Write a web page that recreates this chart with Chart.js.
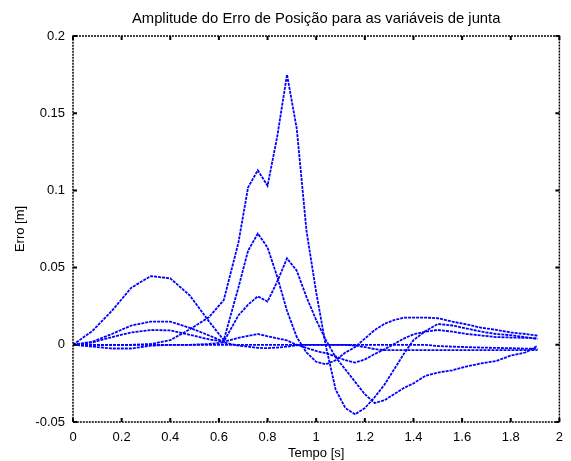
<!DOCTYPE html>
<html>
<head>
<meta charset="utf-8">
<script src="https://cdn.jsdelivr.net/npm/chart.js@4/dist/chart.umd.min.js"></script>
<style>
  html, body { margin: 0; padding: 0; background: #fff; }
  #wrap { width: 571px; height: 461px; }
</style>
</head>
<body>
<div id="wrap"><canvas id="chart" width="571" height="461"></canvas></div>
<script>
// ─── Data ────────────────────────────────────────────────────────────────────
const tempo = [0, 0.08, 0.16, 0.24, 0.32, 0.40, 0.48, 0.56, 0.62, 0.68, 0.72, 0.76,
  0.80, 0.84, 0.88, 0.92, 0.96, 1.00, 1.04, 1.08, 1.12, 1.16, 1.20, 1.24, 1.28,
  1.32, 1.36, 1.40, 1.45, 1.50, 1.56, 1.62, 1.68, 1.74, 1.80, 1.86, 1.91];

const erroJ1 = [0, 0, 0, 0, 0.0005, 0.003, 0.010, 0.018, 0.029, 0.066, 0.102, 0.113,
  0.103, 0.135, 0.175, 0.140, 0.074, 0.034, -0.001, -0.029, -0.041, -0.045, -0.041, -0.034, -0.026,
  -0.016, -0.006, 0.003, 0.009, 0.0135, 0.0125, 0.0105, 0.0085, 0.007, 0.0062, 0.005, 0.0037];

const erroJ2 = [0, 0.009, 0.022, 0.037, 0.0445, 0.043, 0.032, 0.015, 0.003, 0.037, 0.061, 0.072,
  0.063, 0.044, 0.022, 0.005, -0.005, -0.011, -0.0126, -0.010, -0.005, -0.0015, 0.004, 0.0095, 0.0135,
  0.016, 0.0176, 0.0176, 0.0176, 0.0172, 0.015, 0.0132, 0.011, 0.0097, 0.008, 0.007, 0.0059];

const erroJ3 = [0, 0.002, 0.007, 0.0125, 0.015, 0.015, 0.011, 0.006, 0.002, 0.019, 0.026, 0.0314,
  0.028, 0.041, 0.056, 0.048, 0.031, 0.016, 0.003, -0.008, -0.016, -0.024, -0.032, -0.0377, -0.036,
  -0.032, -0.028, -0.025, -0.020, -0.018, -0.0165, -0.014, -0.012, -0.0105, -0.007, -0.005, -0.0007];

const erroJ4 = [0, 0.0015, 0.005, 0.008, 0.0096, 0.0093, 0.0065, 0.0035, 0.002, 0.0045, 0.0058, 0.007,
  0.0055, 0.0042, 0.0028, 0.0, -0.002, -0.004, -0.0055, -0.0075, -0.010, -0.0115, -0.0095, -0.006, -0.003,
  0.0005, 0.004, 0.0068, 0.0085, 0.0096, 0.0085, 0.007, 0.006, 0.005, 0.0047, 0.0045, 0.0043];

const erroJ5 = [0, 0, 0, 0, 0, 0, 0, 0, 0, 0, 0, 0,
  0, 0, 0, 0, 0, 0, 0, 0, 0, 0, 0, 0, 0,
  0, 0, 0, 0, -0.0008, -0.0012, -0.0015, -0.0018, -0.002, -0.0022, -0.0025, -0.0026];

const erroJ6 = [0, -0.0012, -0.0024, -0.0024, -0.0006, 0, 0, 0.0005, 0.0015, -0.0005, -0.0012, -0.002,
  -0.0022, -0.0018, -0.0012, -0.0003, 0, 0, 0, 0, 0, -0.0005, -0.0015, -0.0028, -0.0035,
  -0.0035, -0.0035, -0.0035, -0.0035, -0.0035, -0.0035, -0.0035, -0.0035, -0.0035, -0.0035, -0.0035, -0.0035];

const xTickLabels = ['0', '0.2', '0.4', '0.6', '0.8', '1', '1.2', '1.4', '1.6', '1.8', '2'];
const yTickLabels = ['-0.05', '0', '0.05', '0.1', '0.15', '0.2'];

// ─── Style ────────────────────────────────────────────────────────────────────
const FAMILY = '"Liberation Sans", Arial, sans-serif';
const FONT = { family: FAMILY, size: 13 };
const LINE_BLUE = '#0000ff';

const series = [erroJ1, erroJ2, erroJ3, erroJ4, erroJ5, erroJ6];
const datasets = series.map((vals, i) => ({
  label: 'q' + (i + 1),
  data: vals.map((v, k) => ({ x: tempo[k], y: v })),
  borderColor: LINE_BLUE,
  backgroundColor: LINE_BLUE,
  borderWidth: 1.8,
  borderDash: [3, 1],
  pointRadius: 0,
  tension: 0,
  fill: false,
}));

// box + inward ticks, MATLAB style
const boxPlugin = {
  id: 'box',
  afterDatasetsDraw(chart) {
    const { ctx, chartArea: a, scales: { x, y } } = chart;
    ctx.save();
    ctx.strokeStyle = '#000';
    ctx.lineWidth = 1.5;
    ctx.setLineDash([2, 1]);
    ctx.strokeRect(a.left, a.top, a.right - a.left, a.bottom - a.top);
    ctx.setLineDash([]);
    ctx.lineWidth = 2;
    const len = 4;
    x.ticks.forEach(t => {
      const px = x.getPixelForValue(t.value);
      ctx.beginPath();
      ctx.moveTo(px, a.bottom); ctx.lineTo(px, a.bottom - len);
      ctx.moveTo(px, a.top);    ctx.lineTo(px, a.top + len);
      ctx.stroke();
    });
    y.ticks.forEach(t => {
      const py = y.getPixelForValue(t.value);
      ctx.beginPath();
      ctx.moveTo(a.left, py);  ctx.lineTo(a.left + len, py);
      ctx.moveTo(a.right, py); ctx.lineTo(a.right - len, py);
      ctx.stroke();
    });
    ctx.restore();
  },
};

new Chart(document.getElementById('chart').getContext('2d'), {
  type: 'line',
  data: { datasets },
  options: {
    responsive: false,
    animation: false,
    layout: { padding: { left: 0, right: 8, top: 0, bottom: 0 } },
    plugins: {
      legend: { display: false },
      tooltip: { enabled: false },
      title: {
        display: true,
        fullSize: false,   // centre over the plot box, not the canvas
        text: 'Amplitude do Erro de Posição para as variáveis de junta',
        color: '#000',
        font: { family: FAMILY, size: 14.8, weight: 'normal' },
        padding: { top: 10, bottom: 8.2 },
      },
    },
    scales: {
      x: {
        type: 'linear',
        min: 0, max: 2,
        afterFit: s => { s.height = 39; },
        border: { display: false },
        grid: { display: false, drawTicks: false },
        ticks: {
          stepSize: 0.2,
          color: '#000',
          font: FONT,
          padding: 8,
          maxRotation: 0,
          callback: (v, i) => xTickLabels[i],
        },
        title: { display: true, text: 'Tempo [s]', color: '#000', font: FONT, padding: { top: 0, bottom: 0 } },
      },
      y: {
        type: 'linear',
        min: -0.05, max: 0.2,
        afterFit: s => { s.width = 73; },
        border: { display: false },
        grid: { display: false, drawTicks: false },
        ticks: {
          stepSize: 0.05,
          color: '#000',
          font: FONT,
          padding: 8,
          callback: (v, i) => yTickLabels[i],
        },
        title: { display: true, text: 'Erro [m]', color: '#000', font: FONT, padding: { top: 13, bottom: 0 } },
      },
    },
  },
  plugins: [boxPlugin],
});
</script>
</body>
</html>
